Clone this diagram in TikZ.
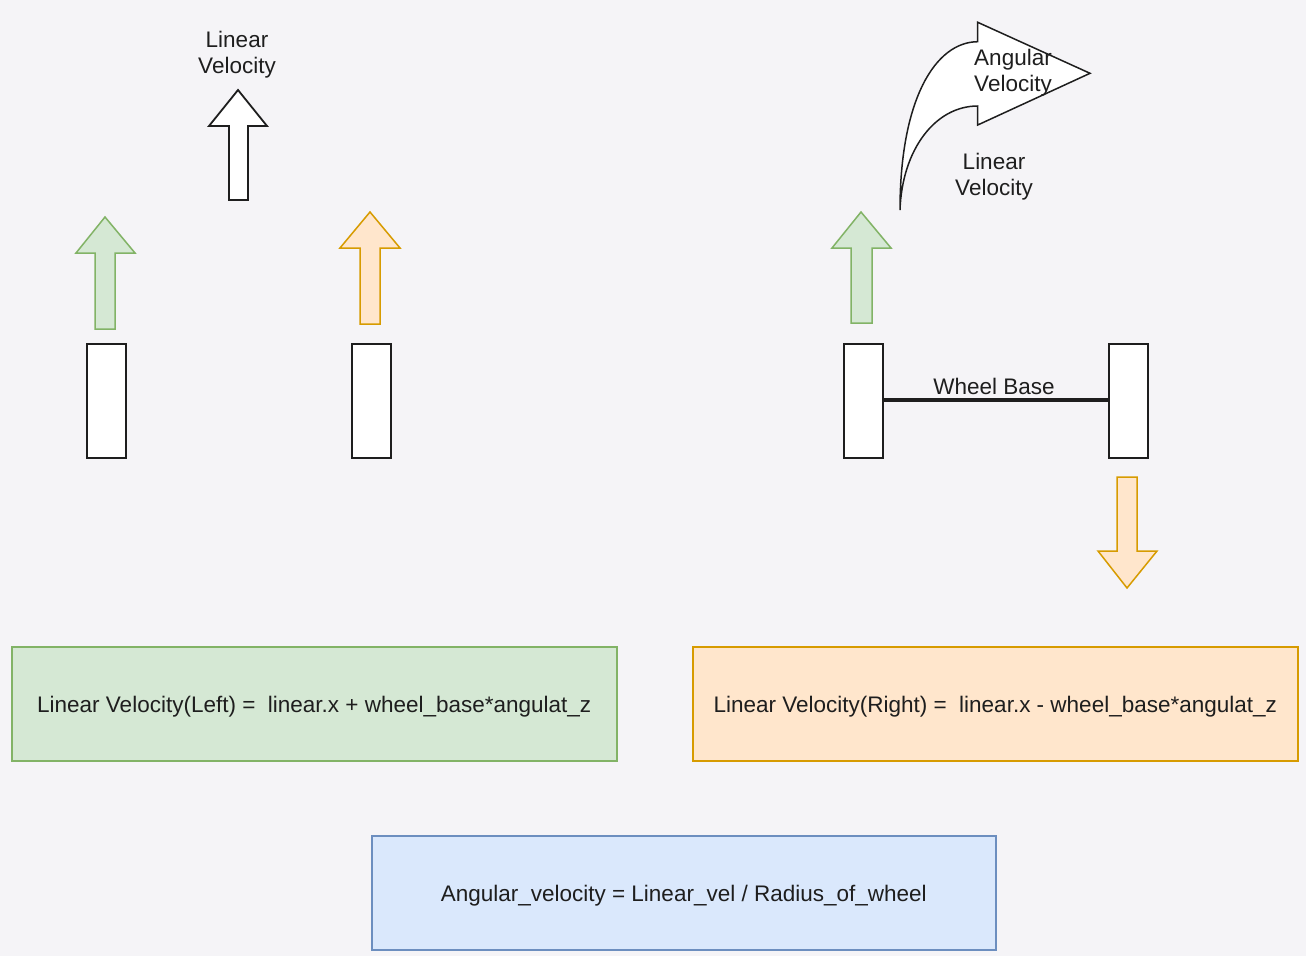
\documentclass[tikz,border=0pt]{standalone}
\usepackage{fontspec}
\setmainfont{Liberation Sans}
\definecolor{bg}{RGB}{245,244,247}
\definecolor{gfill}{RGB}{213,232,212}
\definecolor{gline}{RGB}{130,179,102}
\definecolor{ofill}{RGB}{255,230,204}
\definecolor{oline}{RGB}{215,155,0}
\definecolor{bfill}{RGB}{218,232,252}
\definecolor{bline}{RGB}{108,142,191}
\definecolor{ink}{RGB}{30,30,30}
\begin{document}
\begin{tikzpicture}[x=1pt,y=-1pt,
  txt/.style={font=\fontsize{22.5}{26}\selectfont, text=ink, align=center, inner sep=0pt},
  wheel/.style={draw=ink, fill=white, line width=2pt, minimum width=39pt, minimum height=114pt, inner sep=0pt, anchor=north west},
  eqbox/.style={line width=1.5pt, minimum width=605pt, minimum height=114pt, inner sep=0pt, anchor=north west},
  eqtext/.style={font=\fontsize{22.5}{26}\selectfont, text=ink, inner sep=0pt},
  garrow/.style={draw=gline, fill=gfill, line width=1.5pt, line join=miter},
  oarrow/.style={draw=oline, fill=ofill, line width=1.5pt, line join=miter},
  warrow/.style={draw=ink, fill=white, line width=1.8pt, line join=miter}]
\fill[bg] (0,0) rectangle (1306,956);
\useasboundingbox (0,0) rectangle (1306,956);

% top white arrow and label
\draw[warrow] (229,200) -- (229,126) -- (209,126) -- (238,90) -- (267,126) -- (248,126) -- (248,200) -- cycle;
\node[txt] (lvtop) at (237,55) {Linear\\Velocity};

% left wheels and arrows
\draw[garrow] (95,329) -- (95,253) -- (76,253) -- (105,217) -- (135,253) -- (115,253) -- (115,329) -- cycle;
\draw[oarrow] (360,324) -- (360,248) -- (340,248) -- (370,212) -- (400,248) -- (380,248) -- (380,324) -- cycle;
\node[wheel] (w1) at (86,343) {};
\node[wheel] (w2) at (351,343) {};

% right wheels
\draw[garrow] (851,323) -- (851,248) -- (832,248) -- (861,212) -- (891,248) -- (872,248) -- (872,323) -- cycle;
\draw[oarrow] (1117,477) -- (1117,551) -- (1098,551) -- (1127,588) -- (1157,551) -- (1137,551) -- (1137,477) -- cycle;
\node[wheel] (w3) at (843,343) {};
\node[wheel] (w4) at (1108,343) {};
\draw[ink, line width=4pt] (w3.east |- 0,400) -- (w4.west |- 0,400);
\node[txt] (wb) at (994,386) {Wheel Base};

% curved arrow
\draw[warrow, line width=1.5pt] (900,210) .. controls (900,100) and (935,42) .. (977.7,41.7)
  -- (977.7,22.3) -- (1090,73.3) -- (977.7,125) -- (977.7,106)
  .. controls (935,106) and (902,150) .. (900,210) -- cycle;
\node[txt] (av) at (1013,73) {Angular\\Velocity};
\node[txt] (lvr) at (994,177) {Linear\\Velocity};

% equation boxes
\node[eqbox, draw=gline, fill=gfill] (eql) at (11,646) {};
\node[eqtext] (eqlt) at ([yshift=-3pt]eql.center) {Linear Velocity(Left) = \ linear.x + wheel\_base*angulat\_z};
\node[eqbox, draw=oline, fill=ofill] (eqr) at (692,646) {};
\node[eqtext] (eqrt) at ([yshift=-3pt]eqr.center) {Linear Velocity(Right) = \ linear.x - wheel\_base*angulat\_z};
\node[eqbox, draw=bline, fill=bfill, minimum width=624pt] (eqa) at (371,835) {};
\node[eqtext] (eqat) at ([yshift=-3pt]eqa.center) {Angular\_velocity = Linear\_vel / Radius\_of\_wheel};
\end{tikzpicture}
\end{document}
